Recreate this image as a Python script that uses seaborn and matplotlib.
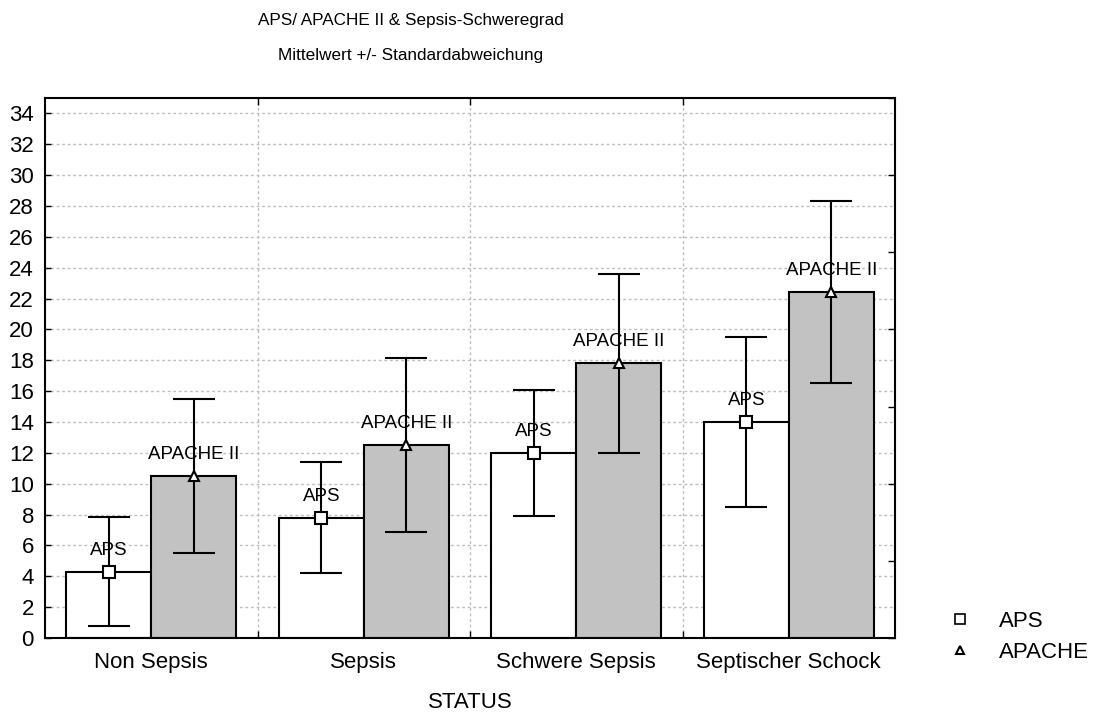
import matplotlib
matplotlib.use("Agg")
import matplotlib.pyplot as plt
import numpy as np
import pandas as pd
import seaborn as sns
from matplotlib.lines import Line2D
from matplotlib.ticker import MultipleLocator

status = ["Non Sepsis", "Sepsis", "Schwere Sepsis", "Septischer Schock"]
aps_mean = [4.3, 7.8, 12.0, 14.0]
aps_sd = [3.55, 3.6, 4.1, 5.5]
apache_mean = [10.5, 12.5, 17.8, 22.4]
apache_sd = [5.0, 5.65, 5.8, 5.9]
scores = ["APS", "APACHE II"]

df = pd.DataFrame({
    "STATUS": status * 2,
    "score": [scores[0]] * 4 + [scores[1]] * 4,
    "mean": aps_mean + apache_mean,
    "sd": aps_sd + apache_sd,
})

sns.set_style("white")
plt.rcParams["font.family"] = ["Liberation Sans", "DejaVu Sans"]
plt.rcParams["text.color"] = "black"
plt.rcParams["axes.labelcolor"] = "black"
plt.rcParams["xtick.color"] = "black"
plt.rcParams["ytick.color"] = "black"

fig = plt.figure(figsize=(10.93, 7.14), dpi=100)
ax = fig.add_axes([0.0412, 0.1064, 0.7777, 0.7563])

sns.barplot(data=df, x="STATUS", y="mean", hue="score", order=status,
            hue_order=scores, palette=["white", "#c2c2c2"], edgecolor="black",
            linewidth=1.5, width=0.8, gap=0, errorbar=None, legend=False,
            ax=ax, zorder=2)

markers = {"APS": "s", "APACHE II": "^"}
for container, name in zip(ax.containers, scores):
    sub = df[df["score"] == name].set_index("STATUS").loc[status]
    xs = [p.get_x() + p.get_width() / 2 for p in container.patches]
    ax.errorbar(xs, sub["mean"], yerr=sub["sd"], fmt="none", ecolor="black",
                elinewidth=1.5, capsize=15, capthick=1.5, zorder=3)
    ax.plot(xs, sub["mean"], linestyle="none", marker=markers[name],
            markersize=8 if name == "APS" else 7, markerfacecolor="white",
            markeredgecolor="black", markeredgewidth=1.5, zorder=4)
    for x, m in zip(xs, sub["mean"]):
        ax.text(x, m + 1.4, name, ha="center", va="center", fontsize=13.5,
                color="black", zorder=5)

ax.set_xlim(-0.5, 3.5)
ax.set_ylim(0, 35)
ax.yaxis.set_major_locator(MultipleLocator(2))
ax.set_xticks([0.5, 1.5, 2.5], minor=True)
ax.grid(False)
ax.yaxis.grid(True, which="major", color="#bdbdbd", linestyle=(0, (2, 2)),
              linewidth=1)
ax.xaxis.grid(True, which="minor", color="#bdbdbd", linestyle=(0, (2, 2)),
              linewidth=1)
ax.set_axisbelow(True)
for s in ax.spines.values():
    s.set_visible(True)
    s.set_color("black")
    s.set_linewidth(1.5)
ax.tick_params(axis="y", which="major", direction="in", length=4, width=1,
               left=True, labelsize=16, pad=8)
ax.tick_params(axis="x", which="major", length=0, labelsize=16, pad=10)
ax.tick_params(axis="x", which="minor", direction="in", length=5, width=1,
               bottom=True, top=True)
ax.set_xlabel("STATUS", fontsize=16, labelpad=14)
ax.set_ylabel("")

# right-side ticks every 5 units
ax2 = ax.twinx()
ax2.set_ylim(0, 35)
ax2.yaxis.set_major_locator(MultipleLocator(5))
ax2.tick_params(axis="y", direction="in", length=5, width=1, labelright=False)
for s in ax2.spines.values():
    s.set_visible(False)

fig.text(0.376, 0.971, "APS/ APACHE II & Sepsis-Schweregrad", ha="center",
         va="center", fontsize=12.3)
fig.text(0.376, 0.9216, "Mittelwert +/- Standardabweichung", ha="center",
         va="center", fontsize=12.3)

handles = [Line2D([], [], linestyle="none", marker="s", markersize=7,
                  markerfacecolor="white", markeredgecolor="black",
                  markeredgewidth=1.2),
           Line2D([], [], linestyle="none", marker="^", markersize=6,
                  markerfacecolor="white", markeredgecolor="black",
                  markeredgewidth=1.5)]
fig.legend(handles, ["APS", "APACHE"], loc="center left",
           bbox_to_anchor=(0.85, 0.108), frameon=False, fontsize=16,
           handlelength=1, handletextpad=1.25, labelspacing=0.45)

fig.savefig("out.png", dpi=100)
